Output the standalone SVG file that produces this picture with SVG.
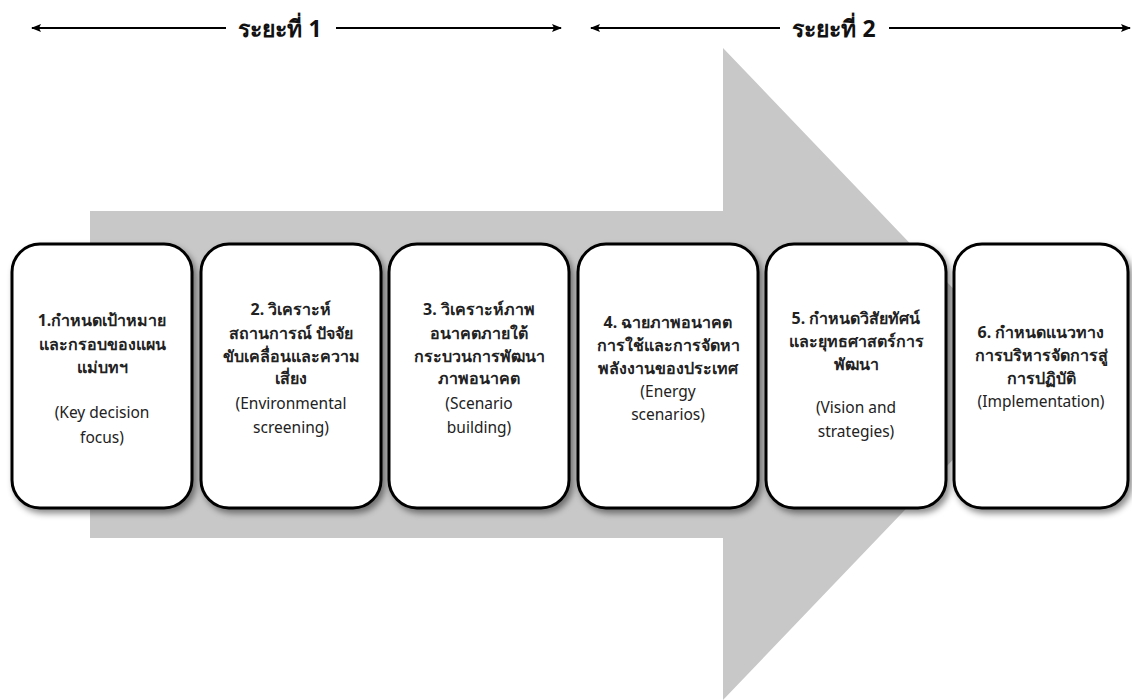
<svg xmlns="http://www.w3.org/2000/svg" width="1132" height="700" viewBox="0 0 1132 700">
<style>
.box{fill:#fff;stroke:#000;stroke-width:3}
.t{font-family:"Noto Sans","Open Sans","DejaVu Sans",sans-serif;font-size:15.5px;fill:#222;text-anchor:middle;dominant-baseline:central}
.th{font-weight:bold;font-size:16px}
.hd{font-family:"Noto Sans","Open Sans","DejaVu Sans",sans-serif;font-size:23px;font-weight:bold;fill:#111;text-anchor:middle;dominant-baseline:central}
.ln{stroke:#000;stroke-width:2;fill:none}
</style>
<defs>
<marker id="ah" viewBox="0 0 10 10" refX="9" refY="5" markerWidth="11" markerHeight="10" markerUnits="userSpaceOnUse" orient="auto-start-reverse">
<path d="M0,1 L10,5 L0,9 L2,5 Z" fill="#000"/>
</marker>
<filter id="sh" x="-10%" y="-10%" width="125%" height="125%">
<feDropShadow dx="3" dy="4" stdDeviation="3" flood-color="#000" flood-opacity="0.45"/>
</filter>
</defs>
<rect width="1132" height="700" fill="#fff"/>
<g id="big-arrow">
<polygon points="90,211 723,211 723,48 1035,374 723,700 723,538 90,538" fill="#c8c8c8"/>
</g>
<g id="connectors">
<line class="ln" x1="226" y1="28" x2="32" y2="28" marker-end="url(#ah)"/>
<line class="ln" x1="336" y1="28" x2="561" y2="28" marker-end="url(#ah)"/>
<line class="ln" x1="780" y1="28" x2="591" y2="28" marker-end="url(#ah)"/>
<line class="ln" x1="889" y1="28" x2="1130" y2="28" marker-end="url(#ah)"/>
</g>
<g id="phase1"><text class="hd" x="280" y="28">ระยะที่ 1</text></g>
<g id="phase2"><text class="hd" x="834" y="28">ระยะที่ 2</text></g>
<g id="node1">
<rect class="box" x="12" y="244" width="180" height="264" rx="28" filter="url(#sh)"/>
<text class="t th" x="102" y="320">1.กำหนดเป้าหมาย</text>
<text class="t th" x="102" y="344">และกรอบของแผน</text>
<text class="t th" x="102" y="367">แม่บทฯ</text>
<text class="t" x="102" y="412">(Key decision</text>
<text class="t" x="102" y="437">focus)</text>
</g>
<g id="node2">
<rect class="box" x="201" y="244" width="180" height="264" rx="28" filter="url(#sh)"/>
<text class="t th" x="291" y="309">2. วิเคราะห์</text>
<text class="t th" x="291" y="333">สถานการณ์ ปัจจัย</text>
<text class="t th" x="291" y="356">ขับเคลื่อนและความ</text>
<text class="t th" x="291" y="378">เสี่ยง</text>
<text class="t" x="291" y="403">(Environmental</text>
<text class="t" x="291" y="427">screening)</text>
</g>
<g id="node3">
<rect class="box" x="389" y="244" width="180" height="264" rx="28" filter="url(#sh)"/>
<text class="t th" x="479" y="309">3. วิเคราะห์ภาพ</text>
<text class="t th" x="479" y="333">อนาคตภายใต้</text>
<text class="t th" x="479" y="356">กระบวนการพัฒนา</text>
<text class="t th" x="479" y="378">ภาพอนาคต</text>
<text class="t" x="479" y="403">(Scenario</text>
<text class="t" x="479" y="427">building)</text>
</g>
<g id="node4">
<rect class="box" x="578" y="244" width="180" height="264" rx="28" filter="url(#sh)"/>
<text class="t th" x="668" y="322">4. ฉายภาพอนาคต</text>
<text class="t th" x="668" y="345">การใช้และการจัดหา</text>
<text class="t th" x="668" y="368">พลังงานของประเทศ</text>
<text class="t" x="668" y="391">(Energy</text>
<text class="t" x="668" y="414">scenarios)</text>
</g>
<g id="node5">
<rect class="box" x="766" y="244" width="180" height="264" rx="28" filter="url(#sh)"/>
<text class="t th" x="856" y="318">5. กำหนดวิสัยทัศน์</text>
<text class="t th" x="856" y="341">และยุทธศาสตร์การ</text>
<text class="t th" x="856" y="364">พัฒนา</text>
<text class="t" x="856" y="407">(Vision and</text>
<text class="t" x="856" y="431">strategies)</text>
</g>
<g id="node6">
<rect class="box" x="954" y="244" width="174" height="264" rx="28" filter="url(#sh)"/>
<text class="t th" x="1041" y="332">6. กำหนดแนวทาง</text>
<text class="t th" x="1041" y="355">การบริหารจัดการสู่</text>
<text class="t th" x="1041" y="378">การปฏิบัติ</text>
<text class="t" x="1041" y="401">(Implementation)</text>
</g>
</svg>
